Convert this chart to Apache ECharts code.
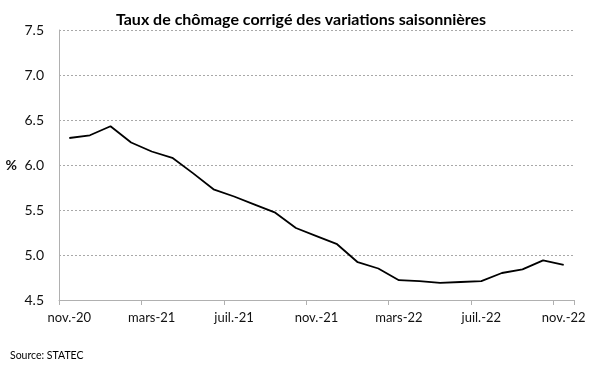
<!DOCTYPE html>
<html>
<head>
<meta charset="utf-8">
<script src="https://cdn.jsdelivr.net/npm/echarts@6/dist/echarts.min.js"></script>
<style>
html,body{margin:0;padding:0;background:#fff;}
#c{width:600px;height:375px;}
</style>
</head>
<body>
<div id="c"></div>
<script>
const categories = ['nov.-20','déc.-20','janv.-21','févr.-21','mars-21','avr.-21','mai-21','juin-21','juil.-21','août-21','sept.-21','oct.-21','nov.-21','déc.-21','janv.-22','févr.-22','mars-22','avr.-22','mai-22','juin-22','juil.-22','août-22','sept.-22','oct.-22','nov.-22'];
const rate = [6.30,6.33,6.43,6.25,6.15,6.08,5.91,5.73,5.65,5.56,5.47,5.30,5.21,5.12,4.92,4.85,4.72,4.71,4.69,4.70,4.71,4.80,4.84,4.94,4.89];
const yTicks = {min:4.5, max:7.5, interval:0.5};
const titleText = 'Taux de chômage corrigé des variations saisonnières';
const sourceText = 'Source: STATEC';

const FONT = 'Lato';
const chart = echarts.init(document.getElementById('c'), null, {renderer:'canvas'});
chart.setOption({
  animation:false,
  backgroundColor:'#ffffff',
  title:{
    text:titleText, left:296, top:7, textAlign:'center',
    textStyle:{fontFamily:FONT, fontWeight:'bold', fontSize:16, color:'#000'}
  },
  graphic:[{
    type:'text', left:10, top:350,
    style:{text:sourceText, font:'10.5px '+FONT, fill:'#000'}
  }],
  grid:{left:59, right:26, top:30, bottom:75, containLabel:false},
  xAxis:{
    type:'category', data:categories, boundaryGap:true,
    axisLine:{lineStyle:{color:'#b0b0b0', width:1}},
    axisTick:{show:true, interval:3, length:5, lineStyle:{color:'#b0b0b0'}},
    axisLabel:{interval:3, margin:11, fontFamily:FONT, fontSize:13, color:'#111'},
    splitLine:{show:false}
  },
  yAxis:{
    type:'value', min:yTicks.min, max:yTicks.max, interval:yTicks.interval,
    name:'%', nameLocation:'middle', nameRotate:0, nameGap:42,
    nameTextStyle:{fontFamily:FONT, fontSize:14, fontWeight:'bold', color:'#111'},
    axisLine:{show:true, lineStyle:{color:'#b0b0b0', width:1}},
    axisTick:{show:false},
    axisLabel:{margin:15, fontFamily:FONT, fontSize:14, color:'#111', formatter:v=>v.toFixed(1)},
    splitLine:{show:true, lineStyle:{color:'#a8a8a8', type:[2,2], width:1}}
  },
  series:[{
    type:'line', data:rate, symbol:'none', smooth:false,
    lineStyle:{color:'#000', width:1.8}
  }]
});
</script>
</body>
</html>
